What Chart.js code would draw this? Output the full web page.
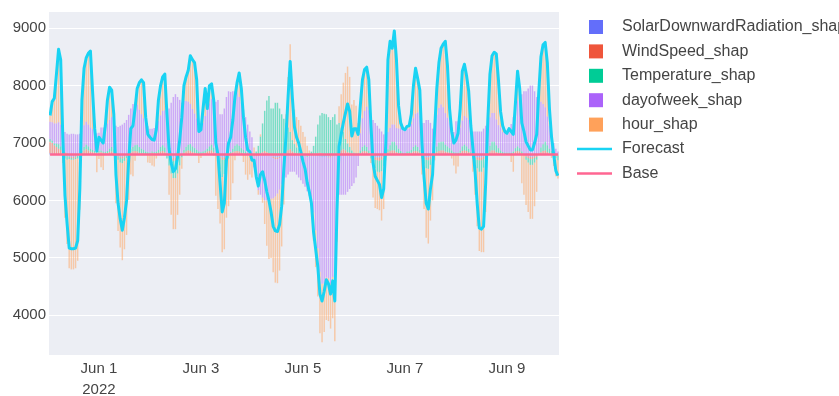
<!DOCTYPE html>
<html>
<head>
<meta charset="utf-8">
<script src="https://cdn.jsdelivr.net/npm/chart.js@4.4.1/dist/chart.umd.min.js"></script>
<style>
  html, body { margin: 0; padding: 0; background: #fff; }
  #wrap { width: 839px; height: 396px; position: relative; }
</style>
</head>
<body>
<div id="wrap"><canvas id="myChart"></canvas></div>
<script>
// hourly values, May 31 01:00 .. Jun 10 00:00, one row per day
const baseValue = 6800;

const forecast = [
  7480,7720,7780,8200,8630,8450,7100,6090,5600,5170,5160,5160,5170,5300,6200,7750,8300,8480,8560,8600,7900,7250,6860,7100,
  7050,7000,7300,7750,7970,7920,7500,6450,5950,5680,5480,5700,6000,6700,7250,7300,7600,7950,8050,8100,8050,7450,7150,7100,
  7060,7050,7230,7750,8000,8150,8200,7500,6900,6650,6500,6550,6750,7050,7450,8000,8150,8260,8520,8450,8400,8100,7200,7230,
  7600,7950,7600,8000,8030,7750,7000,6800,6300,5800,5950,6700,7000,7100,7400,7800,8050,8220,7950,7450,7100,6880,6850,6700,
  6700,6420,6250,6450,6500,6350,6150,6000,5800,5550,5470,5460,5580,5900,6550,7100,7800,8420,7800,7280,7100,7000,6850,6680,
  6550,6310,6150,5950,5450,5150,4850,4370,4250,4420,4620,4550,4370,4600,4250,5800,6940,7150,7350,7520,7680,7550,7120,7250,
  7250,7150,7650,8100,8280,8320,8100,7300,6650,6420,6350,6280,6050,6200,7000,8450,8770,8650,8950,8450,7650,7350,7250,7230,
  7290,7300,7500,8000,8300,8120,7920,7000,6400,5950,5850,6200,6450,7250,7950,8400,8650,8720,8770,8350,7600,7200,7000,7050,
  7170,7600,8250,8370,8170,7900,7300,6900,6500,5950,5520,5500,5550,6300,7400,8200,8520,8580,8550,8100,7550,7300,7200,7170,
  7250,7200,7150,7700,8250,7950,7350,7200,7020,6950,6880,6880,7000,7150,7900,8500,8710,8750,8400,7600,7100,6800,6520,6430
];

const solarShap = [
  20,20,10,10,0,0,-10,-20,-30,-40,-40,-40,-30,-20,-10,0,10,10,10,0,0,0,0,0,
  0,0,0,0,10,10,0,-20,-30,-40,-40,-30,-20,0,10,10,10,10,0,0,0,0,0,0,
  0,0,0,0,10,10,0,-20,-40,-50,-60,-50,-40,-20,0,10,10,10,10,0,0,0,0,0,
  0,0,10,10,10,0,0,-20,-40,-50,-50,-40,-20,0,10,10,10,10,0,0,0,0,0,0,
  0,0,0,10,20,20,10,0,-20,-40,-50,-50,-40,-20,0,10,10,10,0,0,0,0,0,0,
  0,0,0,0,-10,-20,-30,-40,-50,-50,-40,-40,-30,-20,-10,0,10,10,10,10,0,0,0,0,
  0,0,0,10,10,10,0,-20,-40,-50,-50,-50,-40,-20,0,10,10,10,10,0,0,0,0,0,
  0,0,0,10,10,10,0,-20,-40,-50,-50,-40,-20,0,10,10,10,10,0,0,0,0,0,0,
  0,0,10,10,10,0,0,-20,-40,-50,-50,-50,-40,-20,0,10,10,10,0,0,0,0,0,0,
  0,0,0,10,10,10,0,0,-20,-30,-40,-40,-30,-20,0,10,10,10,0,0,0,0,0,0
];

const windShap = [
  200,180,150,120,100,80,60,40,20,0,-20,-30,-20,0,20,40,60,80,60,50,40,30,20,30,
  40,30,20,20,30,40,30,20,0,-20,-30,-20,0,20,30,40,50,40,30,20,20,10,10,10,
  30,20,20,30,40,50,40,20,0,-30,-50,-60,-40,-20,0,20,40,60,50,40,30,20,10,10,
  20,30,40,50,60,40,20,0,-20,-40,-40,-20,0,20,30,40,50,40,30,20,10,0,0,-10,
  -20,-30,-20,0,20,40,30,20,0,-20,-30,-30,-20,0,20,40,60,80,50,30,20,10,0,-10,
  -10,-20,-20,-10,0,10,20,30,20,10,0,-10,-20,-10,0,20,40,60,80,60,40,30,20,10,
  0,0,20,40,50,40,20,0,-20,-40,-50,-60,-50,-30,0,30,50,60,60,40,20,10,0,0,
  20,20,30,40,50,40,30,0,-20,-40,-50,-40,-20,0,30,50,60,60,50,40,30,20,10,10,
  10,30,50,60,50,40,20,0,-20,-40,-50,-50,-40,-20,20,40,60,60,40,30,20,10,10,10,
  10,10,20,40,50,40,20,0,-20,-30,-40,-40,-30,-20,0,30,50,60,40,20,10,0,-10,-20
];

const tempShap = [
  50,40,30,60,80,60,40,-50,-60,-40,-30,-20,-30,-50,-40,30,60,80,70,50,40,30,20,30,
  30,20,20,40,60,80,60,-40,-60,-80,-80,-60,-40,20,60,80,100,120,100,80,60,40,30,20,
  20,20,30,50,80,100,80,-50,-150,-250,-300,-300,-250,-150,-50,50,80,100,120,100,80,60,40,30,
  30,40,50,80,100,80,0,-100,-200,-300,-250,-150,-50,20,60,100,120,100,80,60,40,20,0,-20,
  0,50,150,300,500,700,900,1000,800,800,900,900,800,700,600,500,400,300,200,150,100,100,50,0,
  0,-20,0,50,150,300,500,650,700,700,700,650,600,650,700,500,500,400,300,200,150,100,50,20,
  20,20,50,80,100,80,50,-50,-100,-150,-200,-200,-200,-150,-50,50,100,150,150,120,80,50,30,20,
  30,30,50,80,100,80,50,-50,-100,-150,-150,-100,-50,50,100,150,150,150,120,100,80,50,30,20,
  20,40,80,100,80,60,20,-50,-100,-150,-200,-200,-150,-50,50,100,150,150,120,80,50,30,20,20,
  20,20,30,60,80,60,30,0,-50,-80,-100,-100,-80,-50,0,80,120,150,120,80,50,0,-50,-80
];

const dowShap = [
  300,320,350,350,380,380,350,350,340,350,360,360,350,350,340,350,380,400,380,370,360,350,330,320,
  400,420,450,480,500,520,500,480,480,500,520,550,600,650,700,750,750,700,650,600,550,500,450,420,
  400,420,450,500,550,600,650,700,800,900,1000,1050,1000,950,900,850,800,750,700,650,600,550,500,450,
  500,600,700,750,800,850,900,950,700,700,800,1000,1100,1050,1000,950,900,850,800,700,600,500,400,300,
  -200,-400,-600,-700,-750,-800,-800,-800,-750,-700,-650,-600,-550,-500,-450,-400,-350,-300,-300,-300,-350,-400,-450,-500,
  -550,-600,-700,-800,-1000,-1300,-1600,-2000,-2200,-2200,-2100,-2100,-2200,-2100,-2200,-1200,-700,-700,-700,-700,-650,-600,-550,-500,
  -400,-200,300,500,600,700,700,650,600,550,500,450,400,350,300,300,300,300,300,300,350,400,400,400,
  400,400,450,500,550,600,600,550,550,600,600,550,450,500,550,600,650,600,550,500,450,400,350,550,
  550,400,450,500,500,500,450,400,400,400,400,400,450,500,500,500,500,500,450,400,400,350,350,350,
  400,500,600,700,800,900,1000,1100,1100,1150,1200,1200,1100,1000,900,800,700,600,500,400,300,200,100,50
];

const hourShap = [
  110,360,440,860,1270,1130,-140,-1030,-1470,-1900,-1910,-1910,-1900,-1780,-910,530,990,1110,1240,1330,660,40,-310,-80,
  -220,-270,10,410,570,470,110,-790,-1240,-1480,-1690,-1540,-1340,-790,-350,-380,-110,280,470,600,620,100,-140,-150,
  -190,-210,-70,370,520,590,630,50,-510,-720,-890,-890,-720,-510,-200,270,420,540,840,860,890,670,-150,-60,
  250,480,0,310,260,-20,-720,-830,-940,-1310,-1310,-890,-830,-790,-500,-100,170,420,240,-130,-350,-440,-350,-370,
  120,0,-80,40,-90,-410,-790,-1020,-1030,-1290,-1500,-1560,-1410,-1080,-420,150,880,1530,1050,600,530,490,450,390,
  310,150,70,-90,-490,-640,-840,-1070,-1020,-840,-740,-750,-780,-720,-1040,-320,290,580,860,1150,1340,1220,800,920,
  830,530,480,670,720,690,530,-80,-590,-690,-650,-660,-860,-750,-50,1260,1510,1330,1630,1190,400,90,20,10,
  40,50,170,570,790,590,440,-280,-790,-1210,-1300,-970,-710,-100,460,790,980,1100,1250,910,240,-70,-190,-330,
  -210,330,860,900,730,500,10,-230,-540,-1010,-1380,-1400,-1470,-910,30,750,1000,1060,1140,790,280,110,20,-10,
  20,-130,-300,90,510,140,-500,-700,-790,-860,-940,-940,-760,-560,200,780,1030,1130,940,300,-60,-200,-320,-320
];

const seriesNames = ['SolarDownwardRadiation_shap', 'WindSpeed_shap', 'Temperature_shap', 'dayofweek_shap', 'hour_shap', 'Forecast', 'Base'];
const tickHours = [24, 72, 120, 168, 216];
const tickLabels = [['Jun 1', '2022'], 'Jun 3', 'Jun 5', 'Jun 7', 'Jun 9'];
const yTicks = [4000, 5000, 6000, 7000, 8000, 9000];

const hours = forecast.map((v, i) => i + 1);
const barColors = ['#636efa', '#ef553b', '#00cc96', '#ab63fa', '#ffa15a'];
const barFills = ['rgba(99,110,250,0.5)', 'rgba(239,85,59,0.5)', 'rgba(0,204,150,0.5)', 'rgba(171,99,250,0.5)', 'rgba(255,161,90,0.5)'];

// relative stacking from the base value (positives up, negatives down)
const posTop = hours.map(() => baseValue);
const negBottom = hours.map(() => baseValue);
const barSets = [solarShap, windShap, tempShap, dowShap, hourShap].map((vals, k) => {
  const data = vals.map((v, i) => {
    let lo, hi;
    if (v >= 0) { lo = posTop[i]; hi = lo + v; posTop[i] = hi; }
    else { hi = negBottom[i]; lo = hi + v; negBottom[i] = lo; }
    return { x: hours[i], y: [lo, hi] };
  });
  return {
    type: 'bar', label: seriesNames[k], data: data,
    backgroundColor: barFills[k], legendColor: barColors[k],
    borderWidth: 0, grouped: false, categoryPercentage: 0.8, barPercentage: 0.85, order: 2
  };
});

const plotBg = {
  id: 'plotBg',
  beforeDraw(chart) {
    const a = chart.chartArea, ctx = chart.ctx;
    ctx.save();
    ctx.fillStyle = '#eceef4';
    ctx.fillRect(a.left, a.top, a.right - a.left, a.bottom - a.top);
    ctx.restore();
  }
};

// plotly-like legend to the right of the plot
const sideLegend = {
  id: 'sideLegend',
  afterDraw(chart) {
    const ctx = chart.ctx;
    ctx.save();
    ctx.font = '16px "Liberation Sans", Arial, sans-serif';
    ctx.textBaseline = 'middle';
    chart.data.datasets.forEach((ds, i) => {
      const y = 27 + i * 24.4;
      if (ds.type === 'line') {
        ctx.strokeStyle = ds.borderColor;
        ctx.lineWidth = 2.5;
        ctx.beginPath();
        ctx.moveTo(577, y);
        ctx.lineTo(612, y);
        ctx.stroke();
      } else {
        ctx.fillStyle = ds.legendColor;
        ctx.fillRect(589, y - 7, 14, 14);
      }
      ctx.fillStyle = '#444';
      ctx.fillText(ds.label, 622, y);
    });
    ctx.restore();
  }
};

Chart.defaults.font.family = '"Liberation Sans", Arial, sans-serif';
Chart.defaults.font.size = 15;
Chart.defaults.color = '#444';

var ctx = document.getElementById('myChart').getContext('2d');
var chart = new Chart(ctx, {
    type: 'bar',
    data: {
        datasets: barSets.concat([
            {
                type: 'line', label: seriesNames[5],
                data: hours.map((h, i) => ({ x: h, y: forecast[i] })),
                borderColor: '#19d3f3', borderWidth: 3, pointRadius: 0,
                borderJoinStyle: 'round', fill: false, order: 1
            },
            {
                type: 'line', label: seriesNames[6],
                data: hours.map(h => ({ x: h, y: baseValue })),
                borderColor: '#ff6692', borderWidth: 2.5, pointRadius: 0,
                fill: false, order: 0
            }
        ])
    },
    options: {
        responsive: true,
        maintainAspectRatio: false,
        animation: false,
        layout: { padding: { top: 7, right: 280, left: 0, bottom: 0 } },
        plugins: { legend: { display: false }, tooltip: { enabled: false } },
        scales: {
            x: {
                type: 'linear', min: 0.5, max: 240.5, offset: false,
                grid: { color: 'rgba(0,0,0,0)', drawTicks: false, offset: false },
                border: { display: false },
                afterBuildTicks: s => { s.ticks = tickHours.map(v => ({ value: v })); },
                afterFit: s => { s.height = 41; },
                ticks: {
                    autoSkip: false, maxRotation: 0, padding: 3,
                    font: { size: 15, lineHeight: 1.4 },
                    callback: (v, i) => tickLabels[i]
                }
            },
            y: {
                min: 3310, max: 9280,
                grid: { color: '#ffffff', drawTicks: false },
                border: { display: false },
                afterBuildTicks: s => { s.ticks = yTicks.map(v => ({ value: v })); },
                afterFit: s => { s.width = 49; },
                ticks: { padding: 3, callback: v => String(v) }
            }
        }
    },
    plugins: [plotBg, sideLegend]
});
</script>
</body>
</html>
